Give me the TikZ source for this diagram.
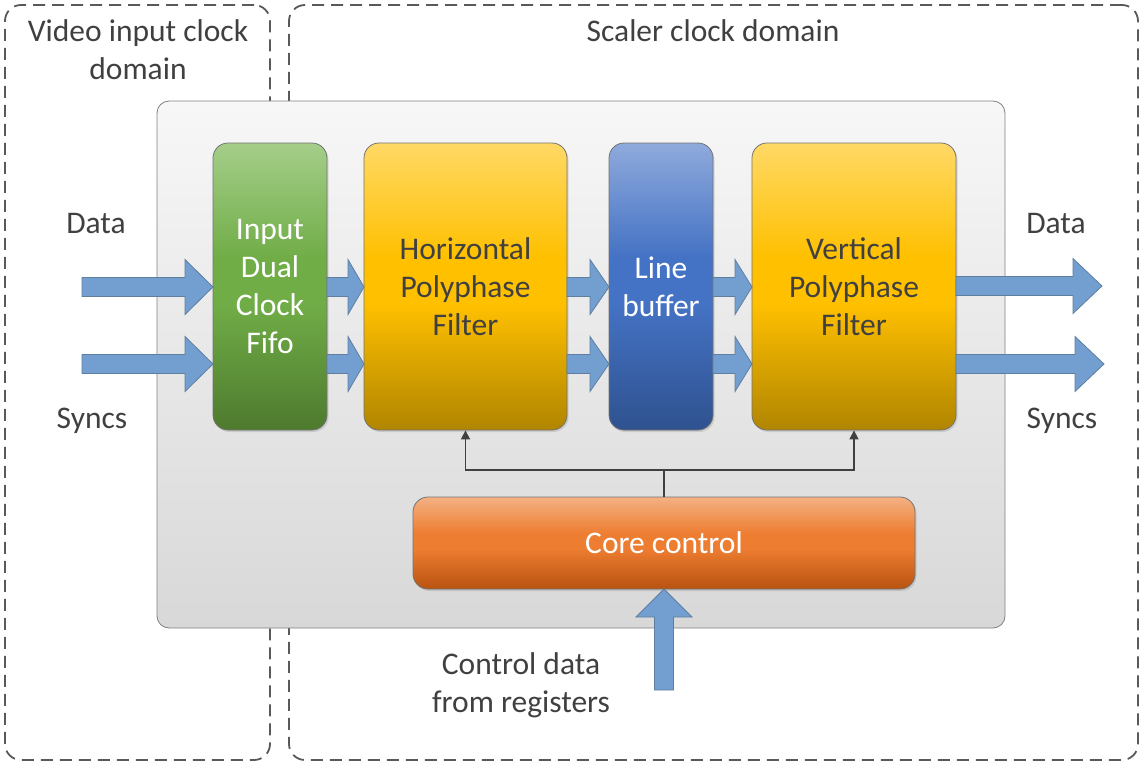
\documentclass[tikz,border=0pt]{standalone}
\usepackage{fontspec}
\setmainfont{Carlito}
\usetikzlibrary{arrows.meta,shadows}
\definecolor{txt}{RGB}{64,64,64}
\definecolor{dom}{RGB}{89,89,89}
\definecolor{arrfill}{RGB}{114,159,207}
\definecolor{arrdraw}{RGB}{96,126,160}
\definecolor{gtop}{RGB}{165,206,138}
\definecolor{gmid}{RGB}{112,173,71}
\definecolor{gbot}{RGB}{78,122,46}
\definecolor{ytop}{RGB}{255,217,102}
\definecolor{ymid}{RGB}{255,192,0}
\definecolor{ybot}{RGB}{176,133,0}
\definecolor{btop}{RGB}{143,170,220}
\definecolor{bmid}{RGB}{68,114,196}
\definecolor{bbot}{RGB}{47,82,143}
\definecolor{otop}{RGB}{244,177,131}
\definecolor{omid}{RGB}{237,125,49}
\definecolor{obot}{RGB}{184,83,16}
\definecolor{mtop}{RGB}{247,247,247}
\definecolor{mbot}{RGB}{216,216,216}
\pgfdeclareverticalshading{gshade}{100bp}{color(0bp)=(gbot); color(25bp)=(gbot); color(47bp)=(gmid); color(55bp)=(gmid); color(75bp)=(gtop); color(100bp)=(gtop)}
\pgfdeclareverticalshading{yshade}{100bp}{color(0bp)=(ybot); color(25bp)=(ybot); color(47bp)=(ymid); color(55bp)=(ymid); color(75bp)=(ytop); color(100bp)=(ytop)}
\pgfdeclareverticalshading{bshade}{100bp}{color(0bp)=(bbot); color(25bp)=(bbot); color(47bp)=(bmid); color(55bp)=(bmid); color(75bp)=(btop); color(100bp)=(btop)}
\pgfdeclareverticalshading{oshade}{100bp}{color(0bp)=(obot); color(25bp)=(obot); color(47bp)=(omid); color(55bp)=(omid); color(75bp)=(otop); color(100bp)=(otop)}
\newcommand\rarr[4]{\draw[blockarr] (#1,{#4-9.5}) -- (#2,{#4-9.5}) -- (#2,{#4-27.5}) -- (#3,#4) -- (#2,{#4+27.5}) -- (#2,{#4+9.5}) -- (#1,{#4+9.5}) -- cycle;}
\tikzset{
  lbl/.style={text=txt,font=\fontsize{31.5}{38}\selectfont,align=center,inner sep=0pt},
  domainbox/.style={draw=dom,line width=1.8pt,dash pattern=on 12pt off 7pt,rounded corners=16pt,inner sep=0pt},
  block/.style={draw=black!55,line width=0.8pt,rounded corners=15pt,inner sep=0pt,align=center,
    font=\fontsize{31.5}{38}\selectfont,
    drop shadow={opacity=0.25,shadow xshift=1.5pt,shadow yshift=-2pt}},
  blockarr/.style={fill=arrfill,draw=arrdraw,line width=0.8pt,line join=miter},
  ctrl/.style={draw=txt,line width=1.6pt},
}
\begin{document}
\begin{tikzpicture}[x=1pt,y=-1pt]
\useasboundingbox (0,0) rectangle (1144,769);
% clock domains
\node[domainbox,minimum width=265pt,minimum height=755pt] (vdom) at (137.5,382.5) {};
\node[domainbox,minimum width=849pt,minimum height=755pt] (sdom) at (713.5,382.5) {};
\node[lbl] (vdomt) at (138,50) {Video input clock\\domain};
\node[lbl] (sdomt) at (713,31) {Scaler clock domain};
% main box
\node[draw=black!50,line width=0.8pt,rounded corners=12pt,top color=mtop,bottom color=mbot,
  minimum width=848pt,minimum height=527pt,inner sep=0pt] (main) at (581,364.5) {};
% blocks
\node[block,shading=gshade,text=white,
  minimum width=114pt,minimum height=287pt] (fifo) at (270,286.5) {Input\\Dual\\Clock\\Fifo};
\node[block,shading=yshade,text=txt,
  minimum width=203pt,minimum height=287pt] (H) at (465.5,286.5) {Horizontal\\Polyphase\\Filter};
\node[block,shading=bshade,text=white,
  minimum width=104pt,minimum height=287pt] (LB) at (661,286.5) {Line\\buffer};
\node[block,shading=yshade,text=txt,
  minimum width=204pt,minimum height=287pt] (V) at (854,286.5) {Vertical\\Polyphase\\Filter};
\node[block,shading=oshade,text=white,
  minimum width=502pt,minimum height=92pt] (core) at (664,543) {Core control};
% block arrows
\rarr{82}{185}{213}{287}
\rarr{82}{185}{213}{364}
\rarr{327}{348}{364}{287}
\rarr{327}{348}{364}{364}
\rarr{567}{590}{609}{287}
\rarr{567}{590}{609}{364}
\rarr{713}{735}{752}{287}
\rarr{713}{735}{752}{364}
\rarr{956}{1073}{1102}{286}
\rarr{956}{1075}{1104}{364}
% control arrow
\draw[blockarr] (654.5,690) -- (654.5,617) -- (636,617) -- (664,589) -- (692,617) -- (673.5,617) -- (673.5,690) -- cycle;
% connectors
\coordinate (j) at (664,470);
\draw[ctrl] (core.north) -- (j);
\draw[ctrl,-{Triangle[length=9pt,width=9pt]}] (j) -| (H.south);
\draw[ctrl,-{Triangle[length=9pt,width=9pt]}] (j) -| (V.south);
% labels
\node[lbl] (din) at (96,224) {Data};
\node[lbl] (sin) at (92,421) {Syncs};
\node[lbl] (dout) at (1056,224) {Data};
\node[lbl] (sout) at (1062,421) {Syncs};
\node[lbl] (cd) at (521,685) {Control data\\from registers};
\end{tikzpicture}
\end{document}
